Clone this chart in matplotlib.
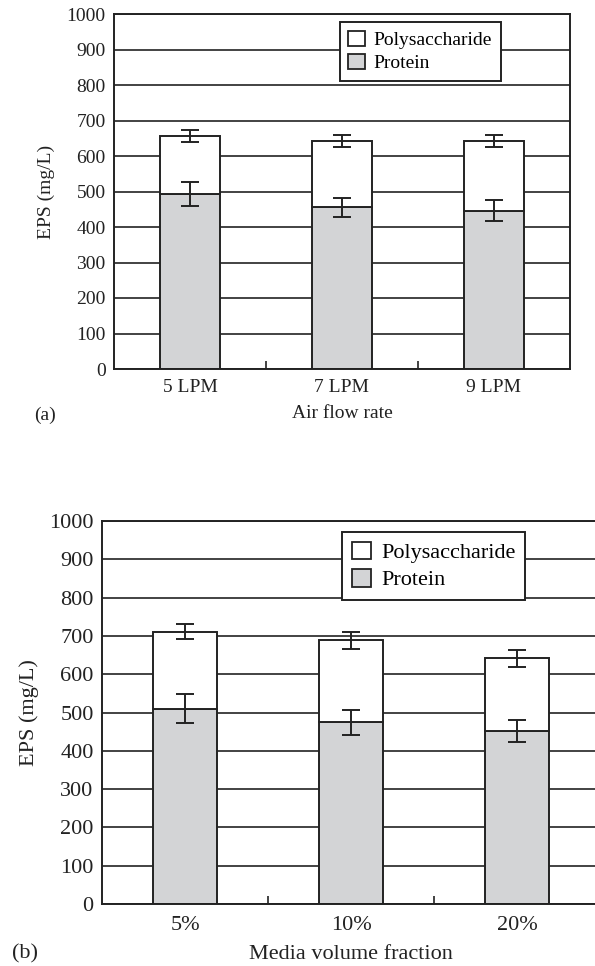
import matplotlib
matplotlib.use("Agg")
import matplotlib.pyplot as plt
from matplotlib.patches import Patch

plt.rcParams['font.family'] = ['Liberation Serif', 'DejaVu Serif']

# panel (a): air flow rate
air_labels = ["5 LPM", "7 LPM", "9 LPM"]
air_protein = [493, 455, 446]
air_protein_err = [35, 28, 30]
air_total = [657, 642, 642]
air_total_err = [17, 18, 18]

# panel (b): media volume fraction
media_labels = ["5%", "10%", "20%"]
media_protein = [510, 474, 452]
media_protein_err = [37, 32, 29]
media_total = [711, 689, 641]
media_total_err = [20, 22, 21]

yticks = list(range(0, 1001, 100))

PROTEIN_COLOR = '#d3d4d6'
EDGE = '#222222'


def draw_panel(ax, labels, protein, protein_err, total, total_err,
               xlabel, fs, legend_bbox, label_pad, xlabel_pad):
    x = [i + 0.5 for i in range(len(labels))]
    poly = [t - p for t, p in zip(total, protein)]

    ax.set_axisbelow(True)
    ax.yaxis.grid(True, color=EDGE, linewidth=1.2)
    ax.bar(x, protein, width=0.39, color=PROTEIN_COLOR, edgecolor=EDGE,
           linewidth=1.4, zorder=2)
    ax.bar(x, poly, width=0.39, bottom=protein, color='white',
           edgecolor=EDGE, linewidth=1.4, zorder=2)
    ax.errorbar(x, protein, yerr=protein_err, fmt='none', ecolor=EDGE,
                elinewidth=1.4, capsize=6.3, capthick=1.4, zorder=3)
    ax.errorbar(x, total, yerr=total_err, fmt='none', ecolor=EDGE,
                elinewidth=1.4, capsize=6.3, capthick=1.4, zorder=3)

    ax.set_xlim(0, len(labels))
    ax.set_ylim(0, 1000)
    ax.set_yticks(yticks)
    ax.tick_params(axis='y', length=0, pad=6, labelsize=fs, colors='#222222')

    # boundary ticks (inward) and category labels on minor ticks
    ax.set_xticks([1, 2])
    ax.set_xticklabels([])
    ax.tick_params(axis='x', which='major', direction='in', length=5.5,
                   width=1.2, color=EDGE)
    ax.set_xticks(x, minor=True)
    ax.set_xticklabels(labels, minor=True)
    ax.tick_params(axis='x', which='minor', length=0, pad=label_pad,
                   labelsize=fs, colors='#222222')

    for s in ax.spines.values():
        s.set_color(EDGE)
        s.set_linewidth(1.4)

    ax.set_xlabel(xlabel, fontsize=fs, labelpad=xlabel_pad, color='#222222')
    ax.set_ylabel("EPS (mg/L)", fontsize=fs, color='#222222')

    handles = [Patch(facecolor='white', edgecolor=EDGE, linewidth=1.3),
               Patch(facecolor=PROTEIN_COLOR, edgecolor=EDGE, linewidth=1.3)]
    leg = ax.legend(handles, ["Polysaccharide", "Protein"], loc='upper left',
                    bbox_to_anchor=legend_bbox, fontsize=fs, fancybox=False,
                    framealpha=1, edgecolor=EDGE, handlelength=0.85,
                    handleheight=0.85, handletextpad=0.45, borderpad=0.45,
                    labelspacing=0.25, borderaxespad=0)
    leg.get_frame().set_linewidth(1.4)
    leg.set_zorder(5)


fig = plt.figure(figsize=(5.95, 9.66), dpi=100)

ax1 = fig.add_axes([114 / 595, 1 - 369 / 966, 456 / 595, 355 / 966])
draw_panel(ax1, air_labels, air_protein, air_protein_err, air_total,
           air_total_err, "Air flow rate", 14, (0.495, 0.978), 7, 6.5)
ax1.yaxis.set_label_coords(-0.129, 0.5)
fig.text(45 / 595, 1 - 415 / 966, "(a)", fontsize=14, ha='center',
         va='center', color='#222222')

ax2 = fig.add_axes([102 / 595, 1 - 904 / 966, 498 / 595, 383 / 966])
draw_panel(ax2, media_labels, media_protein, media_protein_err, media_total,
           media_total_err, "Media volume fraction", 16, (0.482, 0.972),
           9, 6.5)
ax2.yaxis.set_label_coords(-0.127, 0.5)
fig.text(25 / 595, 1 - 954 / 966, "(b)", fontsize=16, ha='center',
         va='center', color='#222222')

fig.savefig("out.png", dpi=100)
